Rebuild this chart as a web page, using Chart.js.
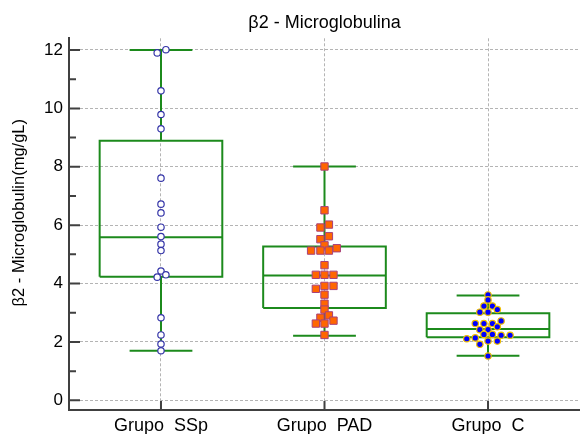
<!DOCTYPE html>
<html lang="pt-BR">
<head>
  <meta charset="UTF-8">
  <title>β2 - Microglobulina</title>
  <script src="https://cdn.jsdelivr.net/npm/chart.js"></script>
  <style>
    html, body { margin: 0; padding: 0; background: #fff; }
    #wrap { width: 580px; height: 434px; }
  </style>
</head>
<body>
  <div id="wrap"><canvas id="boxChart"></canvas></div>
  <script>
    // Categorias e marcas dos eixos
    const grupos = ['Grupo  SSp', 'Grupo  PAD', 'Grupo  C'];
    const yMaiores = [0, 2, 4, 6, 8, 10, 12];
    const yMenores = [1, 3, 5, 7, 9, 11];

    // Estatísticas das caixas (mín, Q1, mediana, Q3, máx)
    const minimo  = [1.70, 2.21, 1.53];
    const q1      = [4.23, 3.16, 2.16];
    const mediana = [5.59, 4.28, 2.44];
    const q3      = [8.89, 5.27, 2.98];
    const maximo  = [12.0, 8.01, 3.59];

    // Pontos individuais e seu deslocamento horizontal (em unidades de categoria)
    const valoresSSp = [12.01, 11.9, 10.6, 9.79, 9.30, 7.61, 6.72, 6.42, 5.93, 5.61, 5.35, 5.13, 4.43, 4.30, 4.22, 2.83, 2.24, 1.93, 1.70];
    const desvioSSp  = [0.03, -0.023, 0, 0, 0, 0, 0, 0, 0, 0, 0, 0, 0, 0.03, -0.023, 0, 0, 0, 0];

    const valoresPAD = [8.01, 6.51, 5.92, 6.02, 5.52, 5.62, 5.31, 5.21, 5.13, 5.13, 5.13, 4.63, 4.30, 4.30, 4.30, 3.82, 3.92, 3.92, 3.62, 3.31, 3.11, 2.91, 2.83, 2.73, 2.63, 2.63, 2.24];
    const desvioPAD  = [0, 0, -0.025, 0.027, -0.025, 0.027, 0, 0.075, -0.082, -0.025, 0.027, 0, -0.053, 0, 0.055, -0.053, 0, 0.055, 0, 0, 0, 0.027, -0.025, 0.055, -0.053, 0, 0];

    const valoresC = [3.61, 3.44, 3.23, 3.23, 3.02, 3.02, 3.11, 2.72, 2.63, 2.63, 2.63, 2.42, 2.42, 2.52, 2.26, 2.26, 2.23, 2.23, 2.14, 2.11, 2.03, 2.03, 1.92, 1.52];
    const desvioC  = [0, 0, -0.025, 0.027, -0.05, 0, 0.057, 0.08, -0.078, -0.025, 0.027, -0.05, 0, 0.057, -0.025, 0.027, 0.08, 0.135, -0.078, -0.13, 0, 0.057, -0.05, 0];

    const verde = '#1c8a1c';
    const fonte = "'Liberation Sans', Arial, sans-serif";

    function pontos(i, valores, desvio) {
      return valores.map((v, k) => ({ x: i + 1 + desvio[k], y: v }));
    }

    // Contorno da caixa, mediana e bigodes como uma linha com falhas
    function caixa(i) {
      const c = i + 1, w = 0.375, cap = 0.192;
      const gap = { x: c, y: null };
      return [
        { x: c - w, y: q1[i] }, { x: c + w, y: q1[i] }, { x: c + w, y: q3[i] }, { x: c - w, y: q3[i] }, { x: c - w, y: q1[i] }, gap,
        { x: c - w, y: mediana[i] }, { x: c + w, y: mediana[i] }, gap,
        { x: c, y: q3[i] }, { x: c, y: maximo[i] }, gap,
        { x: c - cap, y: maximo[i] }, { x: c + cap, y: maximo[i] }, gap,
        { x: c, y: q1[i] }, { x: c, y: minimo[i] }, gap,
        { x: c - cap, y: minimo[i] }, { x: c + cap, y: minimo[i] }
      ];
    }

    function linhaCaixa(i) {
      return {
        type: 'line',
        data: caixa(i),
        borderColor: verde,
        borderWidth: 2,
        pointRadius: 0,
        fill: false,
        spanGaps: false,
        tension: 0,
        borderJoinStyle: 'miter',
        order: 1
      };
    }

    // Marcas dos eixos voltadas para dentro
    const marcasEixos = {
      id: 'marcasEixos',
      afterDraw(chart) {
        const { ctx, chartArea, scales } = chart;
        ctx.save();
        ctx.strokeStyle = '#404040';
        ctx.lineWidth = 2;
        ctx.beginPath();
        yMaiores.forEach(v => {
          const y = scales.y.getPixelForValue(v);
          ctx.moveTo(chartArea.left, y);
          ctx.lineTo(chartArea.left + 11, y);
        });
        yMenores.forEach(v => {
          const y = scales.y.getPixelForValue(v);
          ctx.moveTo(chartArea.left, y);
          ctx.lineTo(chartArea.left + 7, y);
        });
        grupos.forEach((_, i) => {
          const x = scales.x.getPixelForValue(i + 1);
          ctx.moveTo(x, chartArea.bottom);
          ctx.lineTo(x, chartArea.bottom - 9);
        });
        ctx.stroke();
        ctx.restore();
      }
    };

    Chart.defaults.font.family = fonte;
    Chart.defaults.color = '#000';

    new Chart(document.getElementById('boxChart'), {
      type: 'scatter',
      data: {
        datasets: [
          {
            data: pontos(0, valoresSSp, desvioSSp),
            pointStyle: 'circle',
            pointRadius: 3.2,
            backgroundColor: '#ffffff',
            borderColor: '#3535a8',
            borderWidth: 1.2,
            order: 0
          },
          {
            data: pontos(1, valoresPAD, desvioPAD),
            pointStyle: 'rect',
            pointRadius: 5.2,
            backgroundColor: '#ff6600',
            borderColor: '#a8407a',
            borderWidth: 1,
            order: 0
          },
          {
            data: pontos(2, valoresC, desvioC),
            pointStyle: 'circle',
            pointRadius: 3.2,
            backgroundColor: '#0000ff',
            borderColor: '#f0c000',
            borderWidth: 1.2,
            order: 0
          },
          linhaCaixa(0),
          linhaCaixa(1),
          linhaCaixa(2)
        ]
      },
      options: {
        responsive: true,
        maintainAspectRatio: false,
        animation: false,
        layout: { padding: 0, autoPadding: false },
        plugins: {
          legend: { display: false },
          tooltip: { enabled: false }
        },
        scales: {
          x: {
            type: 'linear',
            min: 0.4375,
            max: 3.5625,
            afterFit: s => { s.height = 24; s.paddingLeft = 0; s.paddingRight = 0; },
            afterBuildTicks: s => { s.ticks = grupos.map((_, i) => ({ value: i + 1 })); },
            ticks: {
              padding: 5,
              maxRotation: 0,
              font: { size: 18 },
              callback: v => grupos[v - 1]
            },
            grid: { color: '#b4b4b4', lineWidth: 1, drawTicks: false },
            border: { display: true, color: '#404040', width: 2, dash: [3, 2] }
          },
          // eixo superior só para o título, centrado sobre a área do gráfico
          topo: {
            type: 'linear',
            position: 'top',
            afterFit: s => { s.height = 38.3; s.paddingLeft = 0; s.paddingRight = 0; },
            ticks: { display: false },
            grid: { display: false, drawTicks: false },
            border: { display: false },
            title: {
              display: true,
              text: 'β2 - Microglobulina',
              font: { size: 18 },
              padding: { top: 12, bottom: 0 }
            }
          },
          y: {
            min: -0.33,
            max: 12.4,
            afterFit: s => { s.width = 69; s.paddingTop = 0; s.paddingBottom = 0; },
            afterBuildTicks: s => { s.ticks = yMaiores.map(v => ({ value: v })); },
            ticks: { padding: 6, font: { size: 17 } },
            grid: { color: '#b4b4b4', lineWidth: 1, drawTicks: false },
            border: { display: true, color: '#404040', width: 2, dash: [3, 2] },
            title: {
              display: true,
              text: '     β2 - Microglobulin(mg/gL)',
              font: { size: 16.5 },
              padding: { top: 10, bottom: 0 }
            }
          }
        }
      },
      plugins: [marcasEixos]
    });
  </script>
</body>
</html>
